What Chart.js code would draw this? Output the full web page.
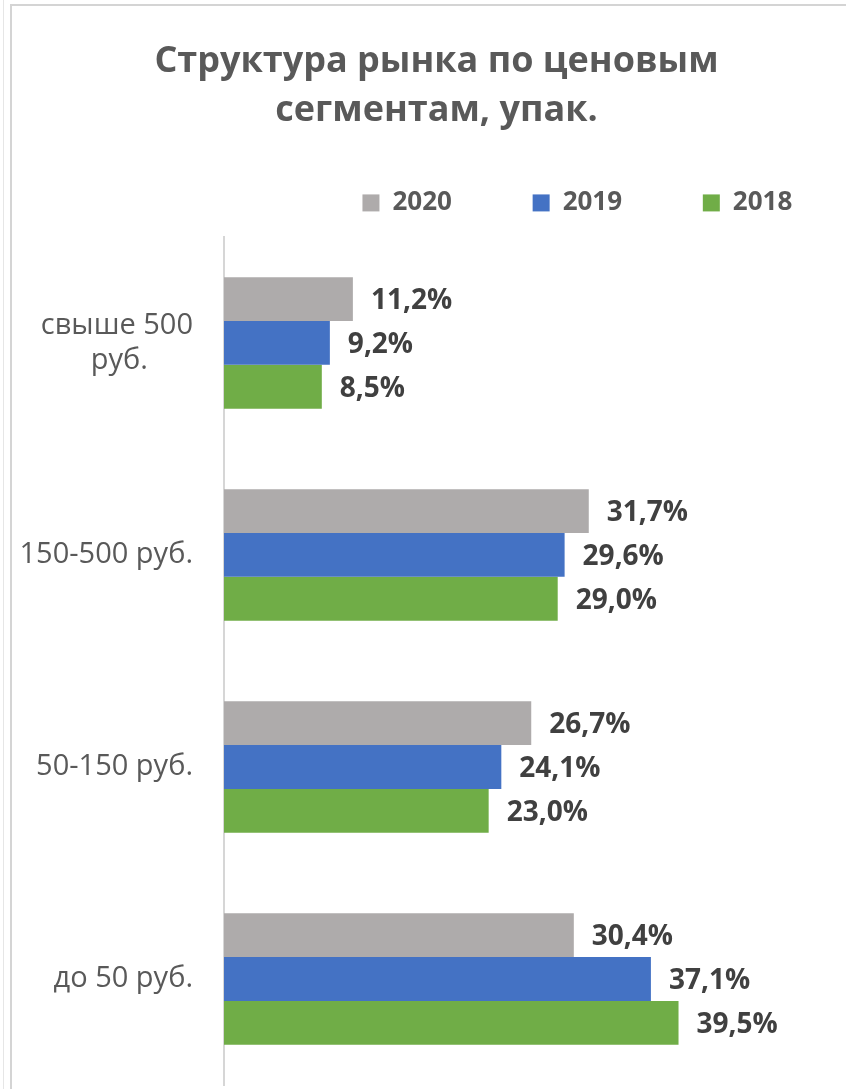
<!DOCTYPE html>
<html>
<head>
<meta charset="utf-8">
<script src="https://cdn.jsdelivr.net/npm/chart.js@4.4.1/dist/chart.umd.min.js"></script>
<style>
  html, body { margin: 0; padding: 0; background: #fff; overflow: hidden; }
  .frame { position: absolute; left: 10px; top: 4px; width: 860px; height: 1100px;
           border-left: 2px solid #d4d4d4; border-top: 2px solid #d4d4d4; }
  .frame2 { position: absolute; left: 3px; top: 0; height: 1089px; border-left: 1px solid #e6e6e6; }
  #chart { position: absolute; left: 0; top: 0; }
</style>
</head>
<body>
<div class="frame2"></div>
<div class="frame"></div>
<canvas id="chart" width="873" height="1089"></canvas>
<script>
var categories = [['свыше 500', 'руб.      '], '150-500 руб.', '50-150 руб.', 'до 50 руб.'];
var seriesNames = ['2020', '2019', '2018'];
var values2020 = [11.2, 31.7, 26.7, 30.4];
var values2019 = [9.2, 29.6, 24.1, 37.1];
var values2018 = [8.5, 29.0, 23.0, 39.5];
var colors = ['#AEABAB', '#4472C4', '#70AD47'];

var fontFamily = '"Open Sans", "Noto Sans", sans-serif';

// value labels at the end of each bar
var barLabels = {
    id: 'barLabels',
    afterDatasetsDraw: function (chart) {
        var ctx = chart.ctx;
        ctx.save();
        ctx.font = 'bold 28px ' + fontFamily;
        ctx.fillStyle = '#404040';
        ctx.textAlign = 'left';
        ctx.textBaseline = 'middle';
        chart.data.datasets.forEach(function (ds, i) {
            chart.getDatasetMeta(i).data.forEach(function (bar, j) {
                var txt = ds.data[j].toFixed(1).replace('.', ',') + '%';
                ctx.fillText(txt, bar.x + 18, bar.y + 2);
            });
        });
        ctx.restore();
    }
};

new Chart(document.getElementById('chart'), {
    type: 'bar',
    data: {
        labels: categories,
        datasets: [
            { label: seriesNames[0], data: values2020, backgroundColor: colors[0] },
            { label: seriesNames[1], data: values2019, backgroundColor: colors[1] },
            { label: seriesNames[2], data: values2018, backgroundColor: colors[2] }
        ]
    },
    options: {
        indexAxis: 'y',
        responsive: false,
        animation: false,
        categoryPercentage: 0.62,
        barPercentage: 1.0,
        layout: { padding: { left: 0, right: 0, top: 0, bottom: 4 } },
        scales: {
            x: {
                position: 'top',
                min: 0, max: 56.4,
                grid: { display: false },
                border: { display: false },
                ticks: { display: false },
                afterFit: function (scale) { scale.height = 11; }
            },
            y: {
                grid: { display: false },
                border: { display: true, color: '#d6d6d6', width: 2 },
                ticks: { color: '#595959', font: { family: fontFamily, size: 29 }, padding: 23 },
                afterFit: function (scale) {
                    scale.width = 224;
                    scale.paddingTop = 0;
                    scale.paddingBottom = 0;
                }
            }
        },
        plugins: {
            tooltip: { enabled: false },
            title: {
                display: true,
                text: ['Структура рынка по ценовым', 'сегментам, упак.'],
                color: '#595959',
                font: { family: fontFamily, size: 36, weight: 'bold', lineHeight: 1.36 },
                padding: { top: 37, bottom: 33 }
            },
            legend: {
                display: true,
                align: 'end',
                labels: {
                    boxWidth: 17,
                    boxHeight: 17,
                    padding: 22,
                    color: '#595959',
                    font: { family: fontFamily, size: 26, weight: 'bold' },
                    generateLabels: function (chart) {
                        var items = Chart.defaults.plugins.legend.labels.generateLabels(chart);
                        var ctx = chart.ctx;
                        ctx.save();
                        ctx.font = 'bold 26px ' + fontFamily;
                        items.forEach(function (it) {
                            var t = it.text;
                            while (ctx.measureText(t + '\u2009').width <= 117) { t += '\u2009'; }
                            while (ctx.measureText(t + '\u200A').width <= 118.5) { t += '\u200A'; }
                            it.text = t;
                            it.lineWidth = 0;
                        });
                        ctx.restore();
                        return items;
                    }
                }
            }
        }
    },
    plugins: [barLabels]
});
</script>
</body>
</html>
